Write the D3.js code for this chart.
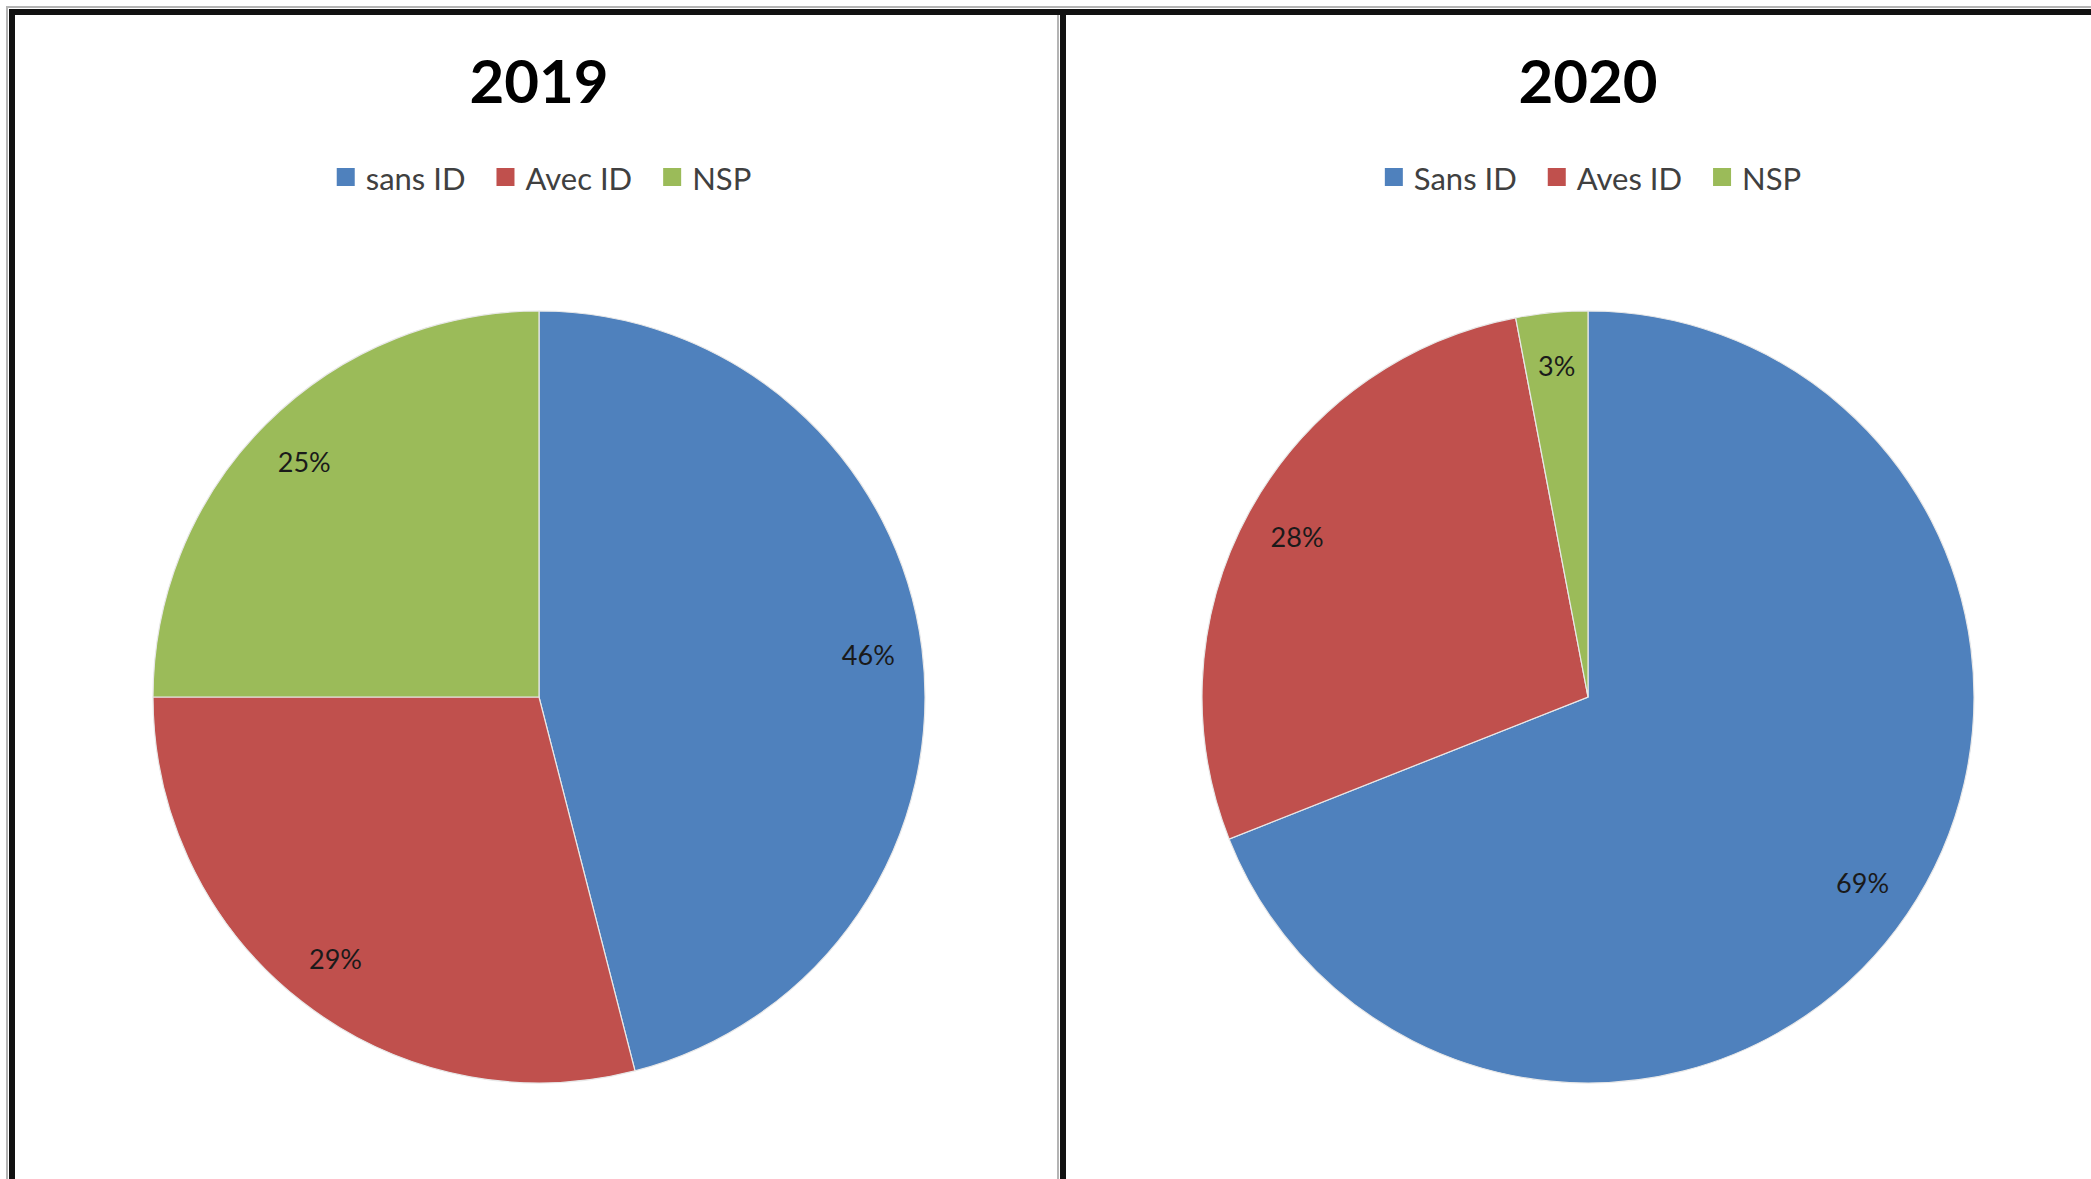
<!DOCTYPE html>
<html>
<head>
<meta charset="utf-8">
<script src="https://cdn.jsdelivr.net/npm/d3@7"></script>
<style>
  body { margin: 0; background: #fff; }
  svg { display: block; }
</style>
</head>
<body>
<svg></svg>
<script>
// data
let years = ["2019", "2020"];
let categories2019 = ["sans ID", "Avec ID", "NSP"];
let values2019 = [46, 29, 25];
let categories2020 = ["Sans ID", "Aves ID", "NSP"];
let values2020 = [69, 28, 3];
let colors = ["#4f81bd", "#c0504d", "#9bbb59"];

let width = 2091;
let height = 1179;
let radius = 386;
let fontFamily = "Lato, 'Open Sans', sans-serif";

let svg = d3.select("svg").attr("width", width).attr("height", height);

svg.append("rect").attr("width", width).attr("height", height).attr("fill", "#fff");

// panel frames
function drawFrames() {
  let g = svg.append("g");
  // light outer lines
  g.append("line").attr("x1", 6).attr("x2", width).attr("y1", 7).attr("y2", 7)
    .attr("stroke", "#b4b4b4").attr("stroke-width", 2);
  g.append("line").attr("x1", 7).attr("x2", 7).attr("y1", 6).attr("y2", height)
    .attr("stroke", "#b4b4b4").attr("stroke-width", 2);
  g.append("line").attr("x1", 1058).attr("x2", 1058).attr("y1", 14).attr("y2", height)
    .attr("stroke", "#b4b4b4").attr("stroke-width", 2);
  // black lines
  g.append("line").attr("x1", 9).attr("x2", width).attr("y1", 12).attr("y2", 12)
    .attr("stroke", "#111").attr("stroke-width", 6);
  g.append("line").attr("x1", 12).attr("x2", 12).attr("y1", 9).attr("y2", height)
    .attr("stroke", "#111").attr("stroke-width", 6);
  g.append("line").attr("x1", 1063).attr("x2", 1063).attr("y1", 9).attr("y2", height)
    .attr("stroke", "#111").attr("stroke-width", 6);
}

function drawPie(cx, year, categories, values) {
  let g = svg.append("g");

  g.append("text")
    .attr("x", cx)
    .attr("y", 103)
    .attr("text-anchor", "middle")
    .attr("font-family", fontFamily)
    .attr("font-weight", "bold")
    .attr("font-size", 60)
    .attr("fill", "#000")
    .text(year);

  // legend, centred on the pie
  let legend = g.append("g");
  let x = 0;
  categories.forEach((c, i) => {
    let item = legend.append("g").attr("transform", "translate(" + x + ",0)");
    item.append("rect")
      .attr("x", 0).attr("y", 168)
      .attr("width", 18).attr("height", 18)
      .attr("fill", colors[i]);
    let t = item.append("text")
      .attr("x", 29)
      .attr("y", 190)
      .attr("font-family", fontFamily)
      .attr("font-size", 31)
      .attr("fill", "#404040")
      .text(c);
    x += 29 + t.node().getComputedTextLength() + 31;
  });
  let legendWidth = x - 31;
  legend.attr("transform", "translate(" + (cx + 5 - legendWidth / 2) + ",0)");

  let pie = d3.pie().sort(null).value((d) => d);
  let arcs = pie(values);
  let arc = d3.arc().innerRadius(0).outerRadius(radius);
  let labelArc = d3.arc().innerRadius(radius * 0.86).outerRadius(radius * 0.86);

  let pieG = g.append("g").attr("transform", "translate(" + cx + ",697)");

  pieG.selectAll("path")
    .data(arcs)
    .enter()
    .append("path")
    .attr("d", arc)
    .attr("fill", (d, i) => colors[i])
    .attr("stroke", "#e8e8e8")
    .attr("stroke-width", 1.2);

  pieG.selectAll("text")
    .data(arcs)
    .enter()
    .append("text")
    .attr("transform", (d) => "translate(" + labelArc.centroid(d) + ")")
    .attr("text-anchor", "middle")
    .attr("dy", "0.35em")
    .attr("font-family", fontFamily)
    .attr("font-size", 27)
    .attr("fill", "#1a1a1a")
    .text((d) => d.data + "%");
}

drawFrames();
drawPie(539, years[0], categories2019, values2019);
drawPie(1588, years[1], categories2020, values2020);
</script>
</body>
</html>
